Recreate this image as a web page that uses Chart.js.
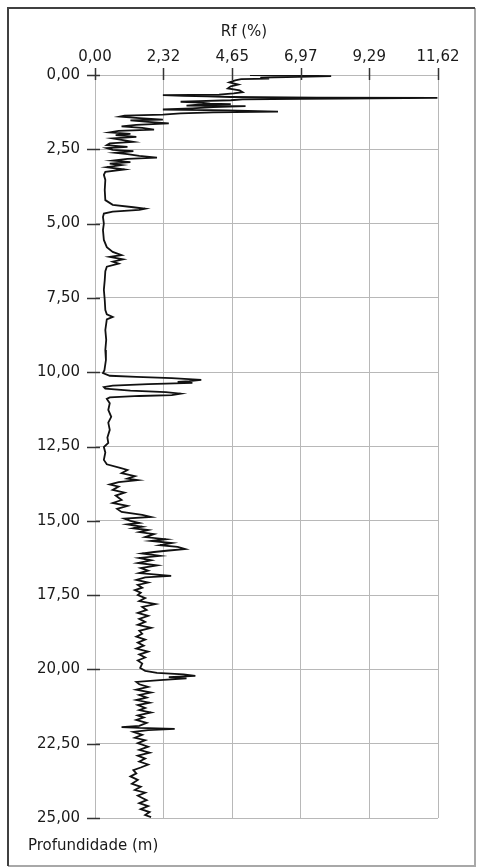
<!DOCTYPE html>
<html>
<head>
<meta charset="utf-8">
<script src="https://cdn.jsdelivr.net/npm/chart.js@4.4.0/dist/chart.umd.min.js"></script>
<style>
  html, body { margin: 0; padding: 0; background: #fff; }
  #wrap { width: 478px; height: 867px; position: relative; }
</style>
</head>
<body>
<div id="wrap"><canvas id="chart"></canvas></div>
<script>
// profile: depth (m) and friction ratio Rf (%)
let depth = [
  0.00, 0.02, 0.04, 0.07, 0.09, 0.12, 0.14, 0.18, 0.25, 0.32, 0.38, 0.45, 0.52, 0.58, 0.62, 0.66,
  0.68, 0.70, 0.72, 0.74, 0.76, 0.77, 0.79, 0.80, 0.82, 0.85, 0.88, 0.90, 0.93, 0.96, 0.98, 1.00,
  1.03, 1.05, 1.08, 1.12, 1.16, 1.19, 1.23, 1.26, 1.29, 1.33, 1.37, 1.40, 1.45, 1.50, 1.53, 1.58,
  1.63, 1.68, 1.73, 1.78, 1.84, 1.88, 1.93, 1.98, 2.02, 2.08, 2.13, 2.19, 2.25, 2.30, 2.36, 2.42,
  2.46, 2.52, 2.56, 2.62, 2.66, 2.72, 2.78, 2.82, 2.88, 2.93, 2.98, 3.03, 3.10, 3.18, 3.26, 3.36,
  3.53, 3.87, 4.21, 4.37, 4.45, 4.50, 4.54, 4.60, 4.66, 4.78, 5.00, 5.22, 5.55, 5.79, 5.95, 6.06,
  6.12, 6.20, 6.28, 6.35, 6.45, 6.60, 6.90, 7.23, 7.57, 7.91, 8.05, 8.14, 8.22, 8.58, 8.91, 9.25,
  9.59, 9.93, 10.03, 10.12, 10.16, 10.20, 10.26, 10.30, 10.33, 10.36, 10.40, 10.45, 10.50, 10.55, 10.62, 10.67,
  10.72, 10.77, 10.80, 10.85, 10.90, 11.04, 11.27, 11.50, 11.70, 11.94, 12.20, 12.38, 12.52, 12.70, 12.95, 13.10,
  13.22, 13.29, 13.40, 13.50, 13.58, 13.63, 13.70, 13.78, 13.85, 13.96, 14.05, 14.15, 14.30, 14.40, 14.50, 14.60,
  14.70, 14.80, 14.87, 14.93, 15.00, 15.07, 15.12, 15.20, 15.25, 15.31, 15.38, 15.45, 15.55, 15.62, 15.68, 15.75,
  15.82, 15.88, 15.95, 16.00, 16.05, 16.10, 16.18, 16.25, 16.33, 16.42, 16.50, 16.59, 16.68, 16.76, 16.85, 16.90,
  16.99, 17.08, 17.16, 17.25, 17.33, 17.42, 17.50, 17.60, 17.70, 17.80, 17.90, 18.00, 18.10, 18.20, 18.30, 18.40,
  18.50, 18.60, 18.70, 18.80, 18.90, 19.00, 19.10, 19.20, 19.30, 19.40, 19.50, 19.60, 19.70, 19.80, 19.95, 20.05,
  20.12, 20.17, 20.22, 20.26, 20.30, 20.36, 20.42, 20.50, 20.59, 20.68, 20.78, 20.86, 20.95, 21.03, 21.12, 21.20,
  21.30, 21.37, 21.45, 21.55, 21.62, 21.70, 21.80, 21.90, 21.94, 21.97, 22.00, 22.04, 22.10, 22.20, 22.30, 22.38,
  22.48, 22.60, 22.71, 22.80, 22.90, 23.00, 23.10, 23.20, 23.30, 23.39, 23.50, 23.60, 23.72, 23.85, 23.95, 24.06,
  24.15, 24.25, 24.40, 24.50, 24.60, 24.70, 24.80, 24.90, 24.97
];
let rf = [
  5.25, 7.00, 8.00, 6.50, 5.60, 5.90, 4.95, 4.75, 4.55, 4.85, 4.60, 4.50, 4.90, 5.00, 4.70, 4.20,
  2.30, 3.00, 3.80, 4.60, 7.50, 11.60, 8.40, 7.00, 5.00, 4.60, 3.50, 2.90, 3.60, 3.90, 4.60, 3.50,
  3.10, 5.10, 4.00, 3.30, 2.30, 4.50, 6.20, 4.00, 2.90, 2.30, 1.00, 0.85, 1.50, 2.30, 1.20, 1.80,
  2.50, 1.40, 0.90, 1.60, 2.00, 0.80, 0.50, 1.20, 0.70, 1.40, 0.60, 0.95, 1.30, 0.50, 0.40, 1.10,
  0.40, 0.60, 1.30, 0.70, 1.10, 1.50, 2.10, 1.10, 0.60, 1.20, 0.50, 0.90, 0.40, 1.00, 0.35, 0.30,
  0.35, 0.33, 0.35, 0.60, 1.30, 1.70, 1.50, 0.60, 0.30, 0.27, 0.30, 0.27, 0.30, 0.40, 0.60, 0.90,
  0.50, 0.95, 0.60, 0.80, 0.40, 0.35, 0.33, 0.30, 0.33, 0.35, 0.40, 0.60, 0.40, 0.35, 0.38, 0.35,
  0.37, 0.32, 0.27, 0.50, 1.40, 2.60, 3.60, 3.20, 2.80, 3.30, 1.80, 0.60, 0.30, 0.35, 1.20, 2.40,
  2.90, 2.60, 1.50, 0.50, 0.40, 0.50, 0.45, 0.55, 0.45, 0.50, 0.42, 0.45, 0.30, 0.35, 0.30, 0.40,
  0.85, 1.10, 0.90, 1.35, 1.10, 1.45, 0.80, 0.50, 0.80, 0.60, 1.00, 0.70, 0.90, 0.60, 1.10, 0.75,
  0.90, 1.60, 1.90, 1.00, 1.20, 1.50, 1.10, 1.60, 1.30, 1.80, 1.50, 2.00, 1.70, 2.40, 1.90, 2.60,
  2.20, 2.80, 3.05, 2.50, 2.00, 1.60, 2.20, 1.50, 1.90, 1.45, 2.10, 1.55, 1.80, 1.50, 2.58, 1.70,
  1.40, 1.80, 1.45, 1.60, 1.35, 1.55, 1.45, 1.70, 1.50, 2.05, 1.60, 1.75, 1.45, 1.80, 1.50, 1.70,
  1.45, 1.90, 1.50, 1.60, 1.40, 1.70, 1.45, 1.65, 1.40, 1.80, 1.50, 1.70, 1.45, 1.60, 1.53, 1.70,
  2.10, 3.00, 3.40, 2.50, 3.10, 2.20, 1.40, 1.50, 1.80, 1.40, 1.90, 1.50, 1.75, 1.40, 1.85, 1.45,
  1.70, 1.50, 1.90, 1.45, 1.65, 1.40, 1.75, 1.50, 0.90, 1.50, 2.70, 1.80, 1.30, 1.60, 1.35, 1.70,
  1.45, 1.80, 1.50, 1.85, 1.45, 1.70, 1.50, 1.80, 1.55, 1.30, 1.40, 1.20, 1.45, 1.25, 1.55, 1.35,
  1.70, 1.45, 1.75, 1.50, 1.80, 1.55, 1.85, 1.70, 1.90
];
let xTicks = [0, 2.32, 4.65, 6.97, 9.29, 11.62];
let yTicks = [0, 2.5, 5, 7.5, 10, 12.5, 15, 17.5, 20, 22.5, 25];
let xTitle = 'Rf (%)';
let yTitle = 'Profundidade (m)';

let font = { family: 'DejaVu Sans', size: 15 };
let gridColor = '#b8b8b8';

function fmt(v) {
    return Number(v).toFixed(2).replace('.', ',');
}

// white page, sunken frame, cross ticks and the two axis captions
const extras = {
    id: 'extras',
    beforeDraw(chart) {
        let c = chart.ctx;
        c.save();
        c.fillStyle = '#fff';
        c.fillRect(0, 0, chart.width, chart.height);
        c.restore();
    },
    afterDraw(chart) {
        let c = chart.ctx;
        let a = chart.chartArea;
        c.save();
        // frame
        c.lineWidth = 2;
        c.strokeStyle = '#a8a8a8';
        c.beginPath();
        c.moveTo(475, 8); c.lineTo(475, 866); c.lineTo(8, 866);
        c.stroke();
        c.strokeStyle = '#404040';
        c.beginPath();
        c.moveTo(8, 866); c.lineTo(8, 8); c.lineTo(475, 8);
        c.stroke();

        // ticks crossing the axes
        c.strokeStyle = '#333';
        c.lineWidth = 1.5;
        xTicks.forEach(v => {
            let px = Math.round(chart.scales.x.getPixelForValue(v)) + 0.5;
            c.beginPath();
            c.moveTo(px, a.top - 7);
            c.lineTo(px, a.top + 5);
            c.stroke();
        });
        yTicks.forEach(v => {
            let py = Math.round(chart.scales.y.getPixelForValue(v)) + 0.5;
            c.beginPath();
            c.moveTo(a.left - 8, py);
            c.lineTo(a.left + 5, py);
            c.stroke();
        });

        // captions
        c.fillStyle = '#1a1a1a';
        c.font = '15px "DejaVu Sans"';
        c.textBaseline = 'middle';
        c.textAlign = 'center';
        c.fillText(xTitle, 244, 32);
        c.textAlign = 'left';
        c.fillText(yTitle, 28, 846);
        c.restore();
    }
};

let points = depth.map((d, i) => ({ x: rf[i], y: d }));

let ctx = document.getElementById('chart').getContext('2d');
let chart = new Chart(ctx, {
    type: 'scatter',
    data: {
        datasets: [{
            data: points,
            showLine: true,
            borderColor: '#111',
            borderWidth: 1.8,
            pointRadius: 0,
            fill: false,
            tension: 0
        }]
    },
    options: {
        responsive: true,
        maintainAspectRatio: false,
        animation: false,
        layout: { padding: { left: 0, right: 40, top: 0, bottom: 49 } },
        plugins: {
            legend: { display: false },
            tooltip: { enabled: false }
        },
        scales: {
            x: {
                type: 'linear',
                position: 'top',
                min: 0,
                max: 11.62,
                afterBuildTicks: s => { s.ticks = xTicks.map(v => ({ value: v })); },
                afterFit: s => { s.height = 75; },
                ticks: { callback: v => fmt(v), maxRotation: 0, autoSkip: false, padding: 9, color: '#1a1a1a', font: font },
                grid: { color: gridColor, drawTicks: false },
                border: { color: gridColor }
            },
            y: {
                type: 'linear',
                reverse: true,
                min: 0,
                max: 25,
                afterBuildTicks: s => { s.ticks = yTicks.map(v => ({ value: v })); },
                afterFit: s => { s.width = 95; },
                ticks: { callback: v => fmt(v), autoSkip: false, padding: 15, color: '#1a1a1a', font: font },
                grid: { color: gridColor, drawTicks: false },
                border: { color: gridColor }
            }
        }
    },
    plugins: [extras]
});
</script>
</body>
</html>
